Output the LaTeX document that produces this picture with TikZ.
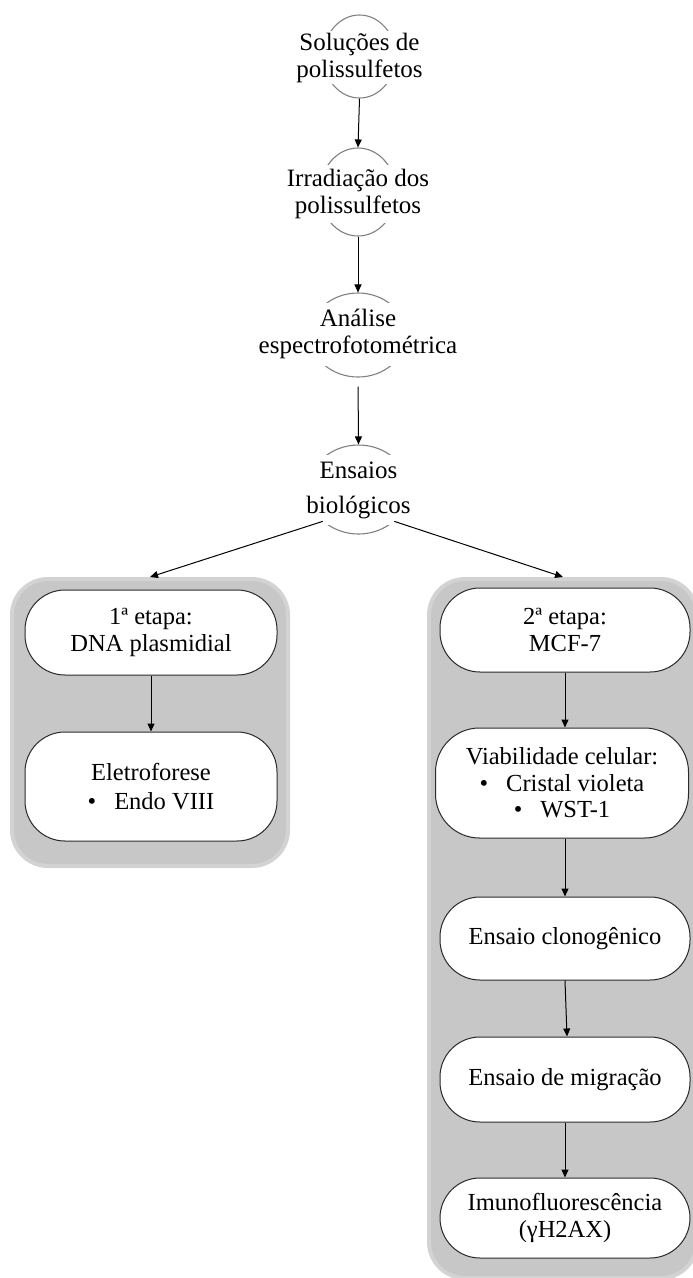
\documentclass[tikz,border=0pt]{standalone}
\usepackage{fontspec}
\setmainfont{Liberation Serif}
\usetikzlibrary{arrows.meta,shapes.geometric}
\definecolor{ovalgray}{HTML}{808080}
\definecolor{boxline}{HTML}{2A2A2A}
\definecolor{panelfill}{HTML}{C7C7C7}
\definecolor{paneledge}{HTML}{D3D3D3}
\begin{document}
\begin{tikzpicture}[x=1pt,y=1pt,
  oval/.style={ellipse, draw=ovalgray, line width=1.1pt, inner sep=0pt},
  toptext/.style={fill=white, inner sep=0pt, align=center, minimum width=120pt, font=\fontsize{25}{27}\selectfont},
  panel/.style={rectangle, rounded corners=36pt, fill=panelfill, draw=paneledge, line width=4pt, inner sep=0pt},
  stadium/.style={rectangle, draw=boxline, line width=1pt, fill=white, rounded corners=40pt, align=center, inner sep=0pt, font=\fontsize{24.5}{26.5}\selectfont},
  arr/.style={-{Triangle[length=8pt,width=7pt]}, line width=1pt},
]
\useasboundingbox (0,0) rectangle (693,-1278);
\clip (0,0) rectangle (693,-1278);

% top chain
\node[oval, minimum width=72pt, minimum height=83pt] (o1) at (359.5,-56.5) {};
\node[toptext, minimum height=53pt] (t1) at (359.5,-57.5) {Soluções de\\polissulfetos};

\node[oval, minimum width=76pt, minimum height=88pt] (o2) at (358,-192) {};
\node[toptext, minimum height=58pt] (t2) at (358,-193.5) {Irradiação dos\\polissulfetos};

\node[oval, minimum width=96pt, minimum height=84pt] (o3) at (358,-335) {};
\node[toptext, minimum height=63pt] (t3) at (358,-334) {Análise\\espectrofotométrica};

\node[oval, minimum width=100pt, minimum height=89pt] (o4) at (358.5,-489.5) {};
\node[toptext, minimum height=70pt, font=\fontsize{25}{35}\selectfont] (t4) at (358.5,-490) {Ensaios\\biológicos};

% panels
\node[panel, minimum width=276pt, minimum height=287pt] (p1) at (150,-722.5) {};
\node[panel, minimum width=268pt, minimum height=699pt] (p2) at (563,-928.5) {};

% left boxes
\node[stadium, minimum width=252pt, minimum height=85pt] (a1) at (151,-632.5) {1ª etapa:\\DNA plasmidial};
\node[stadium, minimum width=252pt, minimum height=109pt, font=\fontsize{24.5}{28.5}\selectfont] (a2) at (151,-786.5) {Eletroforese\\•\hspace{18pt}Endo VIII};

% right boxes
\node[stadium, minimum width=250pt, minimum height=84pt] (b1) at (565,-630) {2ª etapa:\\MCF-7};
\node[stadium, minimum width=253pt, minimum height=110pt, rounded corners=44pt] (b2) at (562,-783) {Viabilidade celular:\\•\hspace{18pt}Cristal violeta\\•\hspace{18pt}WST-1};
\node[stadium, minimum width=250pt, minimum height=83pt] (b3) at (565,-938.5) {Ensaio clonogênico};
\node[stadium, minimum width=250pt, minimum height=85pt] (b4) at (565,-1079.5) {Ensaio de migração};
\node[stadium, minimum width=250pt, minimum height=80pt] (b5) at (565,-1218) {Imunofluorescência\\(γH2AX)};

% connectors
\draw[arr] (o1.south) -- (o2.north);
\draw[arr] (o2.south) -- (o3.north);
\draw[arr, shorten <=9pt] (o3.south) -- (o4.north);
\draw[arr] (o4.south west) -- (p1.north);
\draw[arr] (o4.south east) -- (p2.north);

\draw[arr] (a1.south) -- (a2.north);
\draw[arr] (b1.south) -- (b1.south |- b2.north);
\draw[arr] (b2.south -| b1.south) -- (b3.north);
\draw[arr] (b3.south) -- ([xshift=2pt]b4.north);
\draw[arr] (b4.south) -- (b5.north);
\end{tikzpicture}
\end{document}
